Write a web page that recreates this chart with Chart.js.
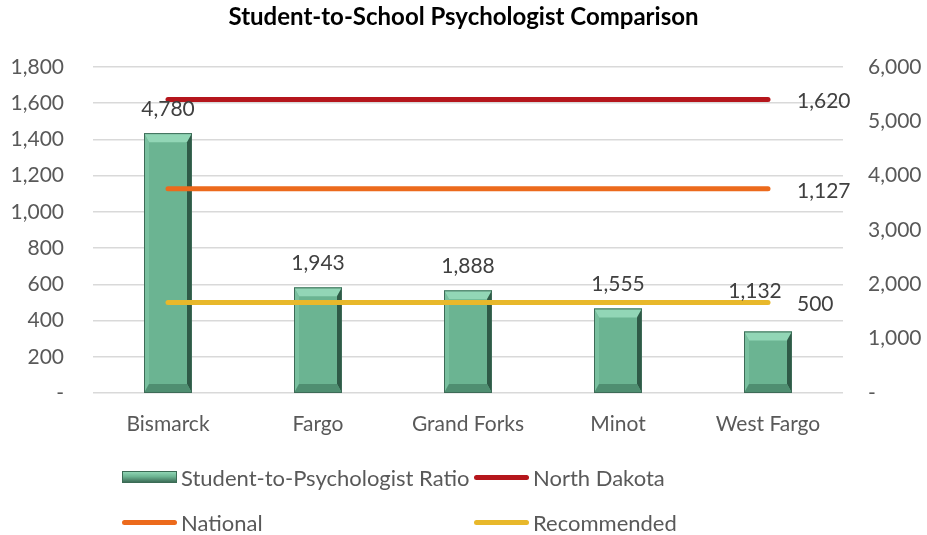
<!DOCTYPE html>
<html lang="en">
<head>
    <meta charset="UTF-8">
    <title>Student-to-School Psychologist Comparison</title>
    <script src="https://cdn.jsdelivr.net/npm/chart.js"></script>
    <style>
        body { margin: 0; background: #fff; }
        #wrap { position: relative; width: 927px; height: 535px; }
        #legend {
            position: absolute; left: 122px; top: 465px;
            display: grid; grid-template-columns: 352px 300px; row-gap: 21px;
            font-family: Lato, sans-serif; font-size: 22px; color: #595959;
        }
        .item { display: flex; align-items: center; height: 24px; white-space: nowrap; }
        .sw { width: 55px; height: 5px; border-radius: 3px; margin-right: 4px; flex: none; }
        .sw.bar { height: 12px; border-radius: 0; background: linear-gradient(#8fd4b3, #6db593 45%, #3d6e58); border: 1px solid #3b6b55; box-sizing: border-box; }
    </style>
</head>
<body>
<div id="wrap">
    <canvas id="psychChart" width="927" height="535"></canvas>
    <div id="legend"></div>
</div>

<script>
    // chart data
    const categories = ['Bismarck', 'Fargo', 'Grand Forks', 'Minot', 'West Fargo'];
    const ratioValues = [4780, 1943, 1888, 1555, 1132];
    const northDakotaValues = [1620, 1620, 1620, 1620, 1620];
    const nationalValues = [1127, 1127, 1127, 1127, 1127];
    const recommendedValues = [500, 500, 500, 500, 500];

    const leftTicks = { min: 0, max: 1800, step: 200 };
    const rightTicks = { min: 0, max: 6000, step: 1000 };

    const labelColor = '#595959';
    const fmt = v => v === 0 ? '-' : v.toLocaleString('en-US');

    // draws the bevelled bars in the old Excel style
    function drawBevelBar(ctx, x0, y0, x1, y1) {
        const b = Math.min(9, (y1 - y0) / 2);
        const s = 5;
        ctx.save();
        ctx.fillStyle = '#6bb492';
        ctx.fillRect(x0, y0, x1 - x0, y1 - y0);
        // top bevel
        ctx.fillStyle = '#92d6b6';
        ctx.beginPath();
        ctx.moveTo(x0, y0); ctx.lineTo(x1, y0); ctx.lineTo(x1 - s, y0 + b); ctx.lineTo(x0 + s, y0 + b); ctx.closePath(); ctx.fill();
        // left bevel
        ctx.fillStyle = '#79c09f';
        ctx.beginPath();
        ctx.moveTo(x0, y0); ctx.lineTo(x0 + s, y0 + b); ctx.lineTo(x0 + s, y1 - b); ctx.lineTo(x0, y1); ctx.closePath(); ctx.fill();
        // right bevel
        ctx.fillStyle = '#2f5a47';
        ctx.beginPath();
        ctx.moveTo(x1, y0); ctx.lineTo(x1 - s, y0 + b); ctx.lineTo(x1 - s, y1 - b); ctx.lineTo(x1, y1); ctx.closePath(); ctx.fill();
        // bottom bevel
        ctx.fillStyle = '#4f8e71';
        ctx.beginPath();
        ctx.moveTo(x0, y1); ctx.lineTo(x1, y1); ctx.lineTo(x1 - s, y1 - b); ctx.lineTo(x0 + s, y1 - b); ctx.closePath(); ctx.fill();
        ctx.strokeStyle = '#3d6b57';
        ctx.lineWidth = 1;
        ctx.strokeRect(x0 + 0.5, y0 + 0.5, x1 - x0 - 1, y1 - y0 - 1);
        ctx.restore();
    }

    const bevelPlugin = {
        id: 'bevel',
        afterDatasetDraw(chart, args) {
            if (chart.data.datasets[args.index].type !== 'bar') return;
            args.meta.data.forEach(el => {
                const w = el.width / 2;
                drawBevelBar(chart.ctx, el.x - w, el.y, el.x + w, el.base);
            });
        }
    };

    // value labels over bars and at the right end of each line
    const barLabelShift = [[0, 0], [0, 0], [0, 0], [0, 0], [-13, -16]];
    const valueLabels = {
        id: 'valueLabels',
        afterDatasetsDraw(chart) {
            const ctx = chart.ctx;
            ctx.save();
            ctx.font = '21px Lato, sans-serif';
            ctx.fillStyle = '#404040';
            chart.data.datasets.forEach((ds, di) => {
                const meta = chart.getDatasetMeta(di);
                if (ds.type === 'bar') {
                    ctx.textAlign = 'center';
                    ctx.textBaseline = 'middle';
                    meta.data.forEach((el, i) => {
                        const sh = barLabelShift[i];
                        ctx.fillText(fmt(ds.data[i]), el.x + sh[0], el.y - 24 + sh[1]);
                    });
                } else {
                    const last = meta.data[meta.data.length - 1];
                    ctx.textAlign = 'left';
                    ctx.textBaseline = 'middle';
                    ctx.fillText(fmt(ds.data[ds.data.length - 1]), last.x + 29, last.y + 2);
                }
            });
            ctx.restore();
        }
    };

    function lineSet(label, data, color) {
        return {
            type: 'line', label, data,
            yAxisID: 'y',
            borderColor: color, backgroundColor: color,
            borderWidth: 5, borderCapStyle: 'round',
            pointRadius: 0, fill: false, order: 0
        };
    }

    const tickFont = { family: 'Lato, sans-serif', size: 21 };

    const ctx = document.getElementById('psychChart').getContext('2d');
    const chart = new Chart(ctx, {
        data: {
            labels: categories,
            datasets: [
                {
                    type: 'bar', label: 'Student-to-Psychologist Ratio', data: ratioValues,
                    yAxisID: 'y1', backgroundColor: 'rgba(0,0,0,0)', borderWidth: 0,
                    barPercentage: 0.32, categoryPercentage: 1, order: 1
                },
                lineSet('North Dakota', northDakotaValues, '#b5161c'),
                lineSet('National', nationalValues, '#ec6a1c'),
                lineSet('Recommended', recommendedValues, '#e8b82b')
            ]
        },
        options: {
            responsive: false,
            animation: false,
            layout: { padding: { left: 0, right: 0, top: 0, bottom: 80 } },
            plugins: {
                legend: { display: false },
                tooltip: { enabled: false },
                title: {
                    display: true,
                    text: 'Student-to-School Psychologist Comparison',
                    color: '#000',
                    font: { family: 'Lato, sans-serif', size: 24, weight: 'bold' },
                    padding: { top: 3, bottom: 35 }
                }
            },
            scales: {
                x: {
                    grid: { display: false, drawTicks: false },
                    border: { display: false },
                    ticks: { color: labelColor, font: tickFont, padding: 19 },
                    afterFit: s => { s.height = 62; }
                },
                y: {
                    position: 'left',
                    min: leftTicks.min, max: leftTicks.max,
                    grid: { color: '#d9d9d9', lineWidth: 1.5, drawTicks: false },
                    border: { display: false },
                    ticks: { stepSize: leftTicks.step, color: labelColor, font: tickFont, padding: 29, callback: fmt },
                    afterFit: s => { s.width = 93; }
                },
                y1: {
                    position: 'right',
                    min: rightTicks.min, max: rightTicks.max,
                    grid: { display: false, drawTicks: false },
                    border: { display: false },
                    ticks: { stepSize: rightTicks.step, color: labelColor, font: tickFont, padding: 25, callback: fmt },
                    afterFit: s => { s.width = 84; }
                }
            }
        },
        plugins: [bevelPlugin, valueLabels]
    });

    // legend laid out in two aligned columns like the original
    const legendEl = document.getElementById('legend');
    chart.data.datasets.forEach(ds => {
        const item = document.createElement('div');
        item.className = 'item';
        const sw = document.createElement('span');
        sw.className = 'sw' + (ds.type === 'bar' ? ' bar' : '');
        if (ds.type !== 'bar') sw.style.background = ds.borderColor;
        item.appendChild(sw);
        item.appendChild(document.createTextNode(ds.label));
        legendEl.appendChild(item);
    });
</script>
</body>
</html>
